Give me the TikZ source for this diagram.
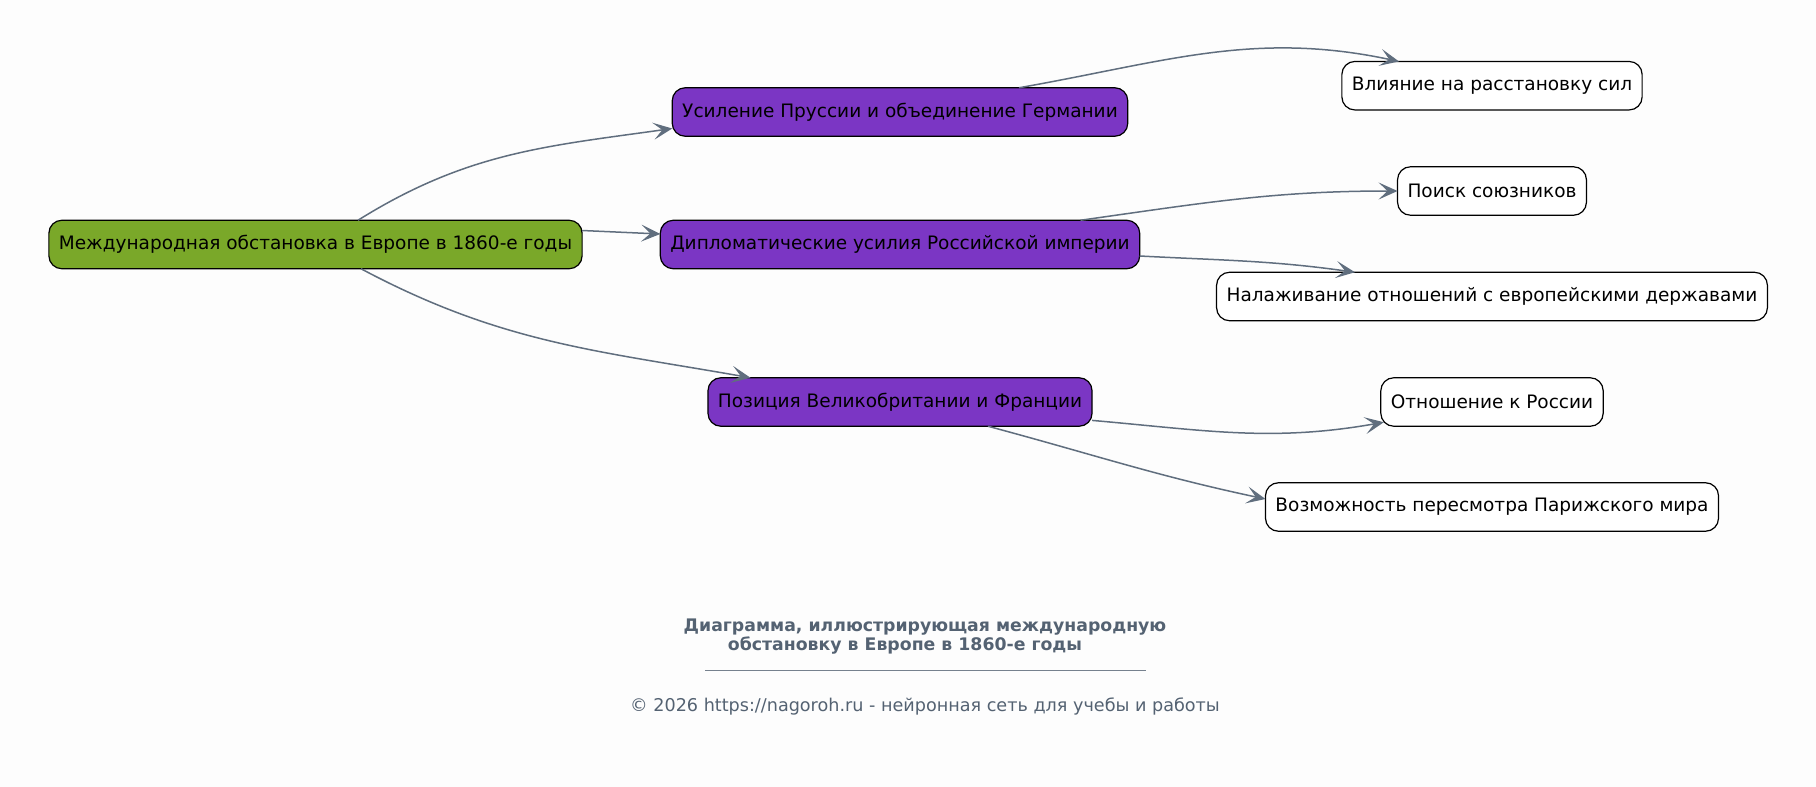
\documentclass[tikz,border=0pt]{standalone}
\usepackage{fontspec}
\setmainfont{DejaVu Sans}
\usetikzlibrary{arrows.meta,positioning}

\definecolor{rootgreen}{RGB}{122,168,41}
\definecolor{subpurple}{RGB}{123,54,196}
\definecolor{edgegray}{RGB}{96,110,126}
\definecolor{capgray}{RGB}{84,98,114}
\definecolor{bggray}{RGB}{253,253,253}

\tikzset{
  box/.style={draw=black,line width=1.2pt,rounded corners=13pt,minimum height=48.5pt,
    inner xsep=10pt,outer sep=0pt,font=\fontsize{18.5}{22}\selectfont},
  edge/.style={draw=edgegray,line width=1.5pt,-{Stealth[length=19pt,width=17pt,inset=9pt]}}
}

\begin{document}
\begin{tikzpicture}[x=1pt,y=-1pt]
        \fill[bggray] (0,0) rectangle (1816,787);
        \useasboundingbox (0,0) rectangle (1816,787);

        \node[box,fill=rootgreen] (root) at (315.5,244.5) {Международная обстановка в Европе в 1860-е годы};

        \node[box,fill=subpurple] (pruss) at (900,112) {Усиление Пруссии и объединение Германии};
        \node[box,fill=subpurple] (dipl) at (900,244.5) {Дипломатические усилия Российской империи};
        \node[box,fill=subpurple] (pos) at (900,402) {Позиция Великобритании и Франции};

        \node[box,fill=white] (infl) at (1492,85.7) {Влияние на расстановку сил};
        \node[box,fill=white] (allies) at (1492,191) {Поиск союзников};
        \node[box,fill=white] (rel) at (1492,296.5) {Налаживание отношений с европейскими державами};
        \node[box,fill=white] (rus) at (1492,402) {Отношение к России};
        \node[box,fill=white] (paris) at (1492,507) {Возможность пересмотра Парижского мира};

        % edges
        \draw[edge] ([xshift=42.5pt]root.north) to[out=32,in=188] ([yshift=-16.5pt]pruss.west);
        \draw[edge] ([yshift=14pt]root.east) -- ([yshift=10.5pt]dipl.west);
        \draw[edge] ([xshift=45.5pt]root.south) to[out=-28,in=170] ([xshift=-149.5pt]pos.north);
        \draw[edge] ([xshift=119pt]pruss.north) to[out=10,in=168] ([xshift=-93pt]infl.north);
        \draw[edge] ([xshift=180.5pt]dipl.north) to[out=8,in=180] (allies.west);
        \draw[edge] ([yshift=-11.5pt]dipl.east) to[out=-3,in=172] ([xshift=-137pt]rel.north);
        \draw[edge] ([yshift=-18.4pt]pos.east) to[out=-5,in=190] ([xshift=3pt,yshift=4pt]rus.south west);
        \draw[edge] ([xshift=88pt]pos.south) to[out=-15,in=168] ([yshift=8pt]paris.west);

        % caption
        \node[text=capgray,font=\bfseries\fontsize{17.3}{19}\selectfont,align=center] (title) at (925,637)
          {Диаграмма, иллюстрирующая международную\\обстановку в Европе в 1860-е годы\hspace*{40pt}};
        \coordinate (ruleL) at (705,670.5);
        \coordinate (ruleR) at (1146,670.5);
        \draw[capgray!80,line width=0.7pt] (ruleL) -- (ruleR);
        \node[text=capgray,font=\fontsize{17.6}{20}\selectfont] (copy) at (925,706)
          {© 2026 https://nagoroh.ru - нейронная сеть для учебы и работы};
      \end{tikzpicture}
\end{document}
